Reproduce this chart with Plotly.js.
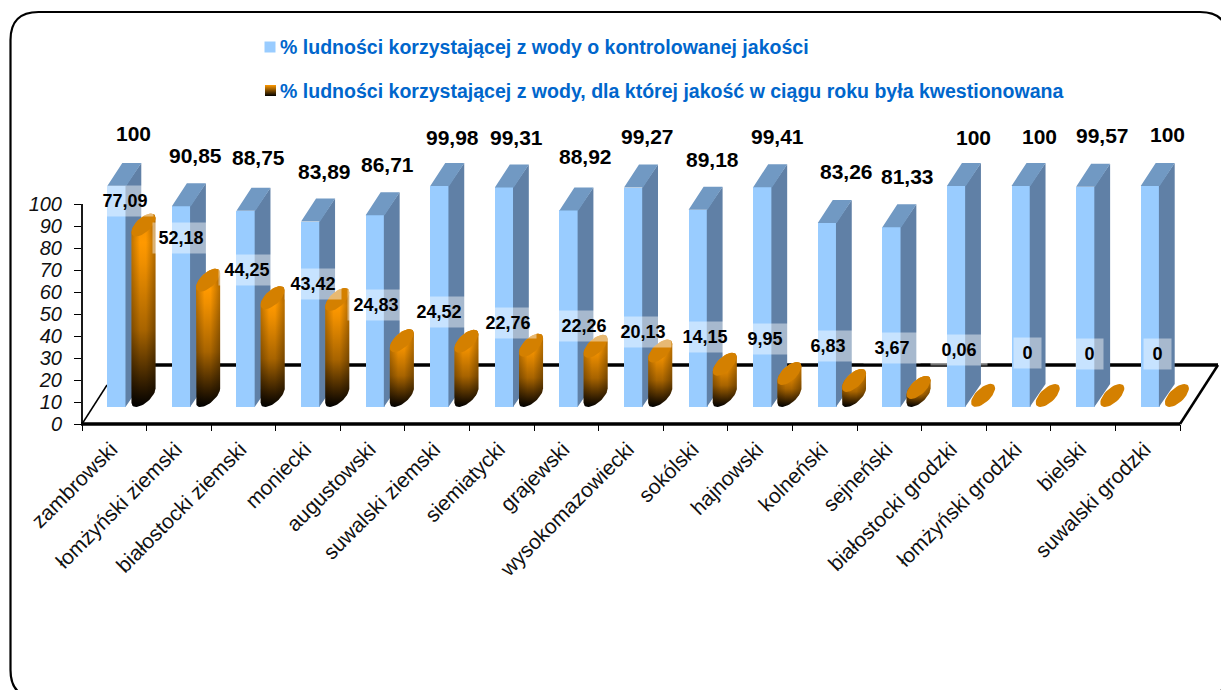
<!DOCTYPE html>
<html><head><meta charset="utf-8">
<script src="https://cdn.plot.ly/plotly-3.0.1.min.js"></script>
<style>html,body{margin:0;padding:0;background:#fff;overflow:hidden}</style></head>
<body><div id="chart" style="width:1221px;height:690px"></div>
<script>
var categories = ["zambrowski","łomżyński ziemski","białostocki ziemski","moniecki","augustowski","suwalski ziemski","siemiatycki","grajewski","wysokomazowiecki","sokólski","hajnowski","kolneński","sejneński","białostocki grodzki","łomżyński grodzki","bielski","suwalski grodzki"];
var controlled = [100,90.85,88.75,83.89,86.71,99.98,99.31,88.92,99.27,89.18,99.41,83.26,81.33,100,100,99.57,100];
var questioned = [77.09,52.18,44.25,43.42,24.83,24.52,22.76,22.26,20.13,14.15,9.95,6.83,3.67,0.06,0,0,0];
var controlledText = ["100","90,85","88,75","83,89","86,71","99,98","99,31","88,92","99,27","89,18","99,41","83,26","81,33","100","100","99,57","100"];
var questionedText = ["77,09","52,18","44,25","43,42","24,83","24,52","22,76","22,26","20,13","14,15","9,95","6,83","3,67","0,06","0","0","0"];
var seriesNames = ["% ludności korzystającej z wody o kontrolowanej jakości","% ludności korzystającej z wody, dla której jakość w ciągu roku była kwestionowana"];
var yTicks = [0,10,20,30,40,50,60,70,80,90,100];

// label placement (pixels on the page), styling only
var topLabelX = [133,195,258,324,387,452,516,585,647,712,777,846,907,973,1039,1102,1167];
var topLabelY = [133,155,157,171,164,137,137,156,136,159,136,171,176,137,136,135,134];
var boxLabelX = [125,181,247,313,376,439,508,584,643,705,765,828,892,959,1027,1089,1157];
var boxLabelY = [201,238,270,284,305,312,323,326,332,337,339,346,348,350,353,354,354];
var legendPos = {swatchX:270,textX:279,rowY:[47,90.5]};

// page geometry: R,T are the ends of the drawn axes, PR,PT the ends of the plot area
var L=82,R=1180,T=204,B=424,PR=1221,PT=30;
var n=categories.length;
var pxX=(R-L)/n, pxY=(B-T)/100;
function X(px){return (px-L)/pxX-0.5;}
function Y(py){return (B-py)/pxY;}
function PX(px){return (px-L)/(PR-L);}
function PY(py){return (B-py)/(B-PT);}
var base=Y(407), barW=19, depthX=15, depthY=23, barOff=2.5, cylOff=29.2, barScale=1.005, cylBase=Y(395.5), seam=0.8;
var ux=1/pxX, uy=1/pxY;

var idx=categories.map(function(_,i){return i;});
var traces=[];
// front faces of the columns
traces.push({type:'bar',name:seriesNames[0],showlegend:false,x:idx.map(function(i){return i+barOff*ux;}),
  y:controlled.map(function(v){return v*barScale;}),base:idx.map(function(){return base;}),width:barW*ux,
  marker:{color:'#99CCFF',line:{width:0}},hoverinfo:'skip'});
// side and top faces
var sx=[],sy=[],tx=[],ty=[];
controlled.forEach(function(v,i){
  var c=i+barOff*ux, xr=c+barW/2*ux, xl=c-barW/2*ux, top=base+v*barScale, dx=depthX*ux, dy=depthY*uy, sm=seam*ux;
  sx.push(xr-sm,xr+dx,xr+dx,xr-sm,xr-sm,null); sy.push(base,base+dy,top+dy,top,base,null);
  tx.push(xl,xr,xr+dx,xl+dx,xl,null); ty.push(top,top,top+dy,top+dy,top,null);
});
function face(x,y,col){return {type:'scatter',mode:'lines',x:x,y:y,fill:'toself',fillcolor:col,line:{width:0,color:col},showlegend:false,hoverinfo:'skip'};}
traces.push(face(sx,sy,'#6080A6'));
traces.push(face(tx,ty,'#7199C3'));
// cylinders
var a=9.4,b=7.5,c2=11.5,t0=Math.atan2(b,a);
function ell(cx,cy,t){return [cx+(a*Math.cos(t)+b*Math.sin(t))*ux, cy+c2*Math.sin(t)*uy];}
var ex=[],ey=[];
questioned.forEach(function(v,i){
  var cx=i+cylOff*ux, k,p;
  var top=cylBase+v*barScale;
  if(v>0.5){
    var bx=[],by=[];
    for(k=0;k<=24;k++){p=ell(cx,top,t0+(k/24)*Math.PI);bx.push(p[0]);by.push(p[1]);}
    for(k=0;k<=24;k++){p=ell(cx,cylBase,t0+Math.PI+(k/24)*Math.PI);bx.push(p[0]);by.push(p[1]);}
    bx.push(bx[0]);by.push(by[0]);
    traces.push({type:'scatter',mode:'lines',x:bx,y:by,fill:'toself',line:{width:0,color:'#ff9900'},showlegend:false,hoverinfo:'skip',
      fillgradient:{type:'vertical',colorscale:[[0,'#000000'],[0.1,'#2a1800'],[0.4,'#a86400'],[0.75,'#f09000'],[0.85,'#ff9900'],[1,'#ee8c00']]}});
    traces.push({type:'scatter',mode:'lines',x:bx,y:by,fill:'toself',line:{width:0,color:'rgba(0,0,0,0)'},showlegend:false,hoverinfo:'skip',
      fillgradient:{type:'horizontal',colorscale:[[0,'rgba(0,0,0,0.25)'],[0.35,'rgba(0,0,0,0)'],[0.6,'rgba(0,0,0,0)'],[1,'rgba(0,0,0,0.3)']]}});
  }
  for(k=0;k<=36;k++){p=ell(cx,top,k/36*2*Math.PI);ex.push(p[0]);ey.push(p[1]);}
  ex.push(null);ey.push(null);
});
traces.push(face(ex,ey,'#D48000'));
// legend keys
traces.push({type:'scatter',mode:'markers',name:seriesNames[0]+' (klucz)',showlegend:false,x:[X(legendPos.swatchX)],y:[Y(legendPos.rowY[0])],hoverinfo:'skip',
  marker:{symbol:'square',size:11,color:'#99CCFF',line:{width:0}}});
traces.push({type:'scatter',mode:'markers',name:seriesNames[1],showlegend:false,x:[X(legendPos.swatchX+0.5)],y:[Y(legendPos.rowY[1])],hoverinfo:'skip',
  marker:{symbol:'square',size:11,color:'#FF9900',gradient:{type:'vertical',color:'#000000'},line:{width:0}}});

var annotations=[];
seriesNames.forEach(function(t,i){
  annotations.push({text:t,xref:'x',yref:'y',x:X(legendPos.textX),y:Y(legendPos.rowY[i]),showarrow:false,xanchor:'left',yanchor:'middle',borderpad:0,
    font:{family:'Liberation Sans',size:19.55,color:'#0066CC',weight:700}});
});
controlledText.forEach(function(t,i){
  annotations.push({text:t,xref:'x',yref:'y',x:X(topLabelX[i]),y:Y(topLabelY[i]),showarrow:false,xanchor:'center',yanchor:'middle',
    font:{family:'Liberation Sans',size:21,color:'#000',weight:700}});
});
questionedText.forEach(function(t,i){
  annotations.push({text:t,xref:'x',yref:'y',x:X(boxLabelX[i]),y:Y(boxLabelY[i]),showarrow:false,xanchor:'center',yanchor:'middle',
    width:t==='0'?27:56,height:30,borderpad:0,bgcolor:'rgba(255,255,255,0.45)',
    font:{family:'Liberation Sans',size:18,color:'#000',weight:700}});
});

function line(x0,y0,x1,y1,w){return {type:'line',xref:'paper',yref:'paper',x0:PX(x0),y0:PY(y0),x1:PX(x1),y1:PY(y1),layer:'below',line:{color:'#000',width:w}};}
var fx=38,fy=59;
var shapes=[
  line(L,B,L+fx-13,B-fy+20,1.5),
  line(L+fx,B-fy,R+fx,B-fy,3.5),
  line(R,B,R+fx,B-fy,2.5),
  line(L-1,B,R,B,3.5),
  line(L,T,L,B,1.8)
];
var fr={l:10.5,r:1228,t:12,b:698,q:28};
shapes.push({type:'path',xref:'paper',yref:'paper',layer:'above',fillcolor:'rgba(0,0,0,0)',line:{color:'#000',width:2.2},
  path:'M'+PX(fr.l+fr.q)+','+PY(fr.t)+' L'+PX(fr.r-fr.q)+','+PY(fr.t)+
  ' Q'+PX(fr.r)+','+PY(fr.t)+' '+PX(fr.r)+','+PY(fr.t+fr.q)+
  ' L'+PX(fr.r)+','+PY(fr.b-fr.q)+' Q'+PX(fr.r)+','+PY(fr.b)+' '+PX(fr.r-fr.q)+','+PY(fr.b)+
  ' L'+PX(fr.l+fr.q)+','+PY(fr.b)+' Q'+PX(fr.l)+','+PY(fr.b)+' '+PX(fr.l)+','+PY(fr.b-fr.q)+
  ' L'+PX(fr.l)+','+PY(fr.t+fr.q)+' Q'+PX(fr.l)+','+PY(fr.t)+' '+PX(fr.l+fr.q)+','+PY(fr.t)+' Z'});

var layout={
  width:1221,height:690,paper_bgcolor:'#fff',plot_bgcolor:'rgba(0,0,0,0)',
  margin:{l:L,r:1221-PR,t:PT,b:690-B,pad:0},
  font:{family:'Liberation Sans',color:'#000'},
  showlegend:false,
  xaxis:{range:[-0.5,X(PR)],tickmode:'array',tickvals:idx,ticktext:categories,tickangle:-45,ticks:'',showgrid:false,zeroline:false,
    showline:false,fixedrange:true,automargin:false,ticklabelshift:-3,ticklabelstandoff:8,
    tickfont:{family:'Liberation Sans',size:21,color:'#111'},
    minor:{tickmode:'array',tickvals:idx.concat([n]).map(function(i){return i-0.5;}),ticks:'outside',ticklen:6,tickwidth:1,tickcolor:'#000',showgrid:false}},
  yaxis:{range:[0,Y(PT)],tickmode:'array',tickvals:yTicks,ticktext:yTicks.map(function(v){return '<i>'+v+'</i>';}),ticks:'outside',ticklen:7,tickwidth:1.2,tickcolor:'#000',showgrid:false,zeroline:false,
    showline:false,fixedrange:true,automargin:false,ticklabelstandoff:8,
    tickfont:{family:'Liberation Sans',size:20,color:'#111'}},
  shapes:shapes,annotations:annotations,bargap:0
};
Plotly.newPlot('chart',traces,layout,{displayModeBar:false,responsive:false});
</script></body></html>
